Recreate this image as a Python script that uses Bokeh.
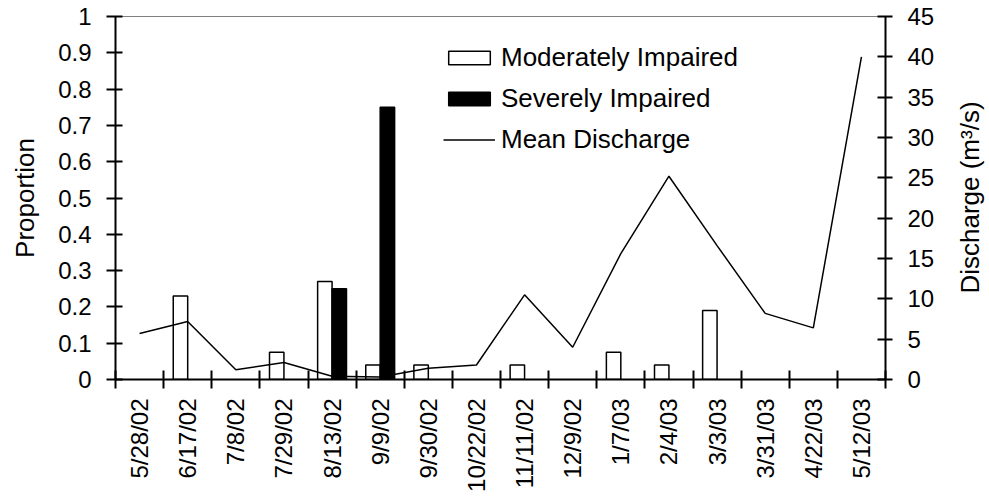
import math
from bokeh.plotting import figure
from bokeh.models import (Range1d, LinearAxis, FixedTicker, ColumnDataSource,
                          Legend, LegendItem, Label)
from bokeh.transform import dodge
from bokeh.embed import file_html
from bokeh.resources import INLINE

# ---- data ----
dates = ["5/28/02", "6/17/02", "7/8/02", "7/29/02", "8/13/02", "9/9/02",
         "9/30/02", "10/22/02", "11/11/02", "12/9/02", "1/7/03", "2/4/03",
         "3/3/03", "3/31/03", "4/22/03", "5/12/03"]
moderate = [0, 0.23, 0, 0.075, 0.27, 0.04, 0.04, 0, 0.04, 0, 0.075, 0.04,
            0.19, 0, 0, 0]
severe = [0, 0, 0, 0, 0.25, 0.75, 0, 0, 0, 0, 0, 0, 0, 0, 0, 0]
discharge = [5.7, 7.2, 1.2, 2.1, 0.4, 0.3, 1.4, 1.8, 10.5, 4.0, 15.6, 25.2,
             16.6, 8.2, 6.4, 40.0]
prop_ticks = [0, 0.1, 0.2, 0.3, 0.4, 0.5, 0.6, 0.7, 0.8, 0.9, 1]
prop_tick_labels = ["0", "0.1", "0.2", "0.3", "0.4", "0.5", "0.6", "0.7",
                    "0.8", "0.9", "1"]
discharge_ticks = [0, 5, 10, 15, 20, 25, 30, 35, 40, 45]

FONT = "Liberation Sans"
TICK_FS = "24px"
TITLE_FS = "26px"

idx = list(range(len(dates)))
mod_src = ColumnDataSource(dict(x=[i for i, v in zip(idx, moderate) if v > 0],
                                top=[v for v in moderate if v > 0]))
sev_src = ColumnDataSource(dict(x=[i for i, v in zip(idx, severe) if v > 0],
                                top=[v for v in severe if v > 0]))
q_src = ColumnDataSource(dict(x=idx, q=discharge))

p = figure(width=985, height=500, output_backend="svg", toolbar_location=None,
           x_range=Range1d(-0.5, len(dates) - 0.5), y_range=Range1d(0, 1),
           min_border_top=16, min_border_left=115, min_border_right=100,
           min_border_bottom=121)
p.extra_y_ranges = {"q": Range1d(0, 45)}

p.grid.visible = False
p.outline_line_color = "#808080"
p.outline_line_width = 1
p.background_fill_color = "white"
p.border_fill_color = "white"

r_mod = p.vbar(x=dodge("x", -0.15), top="top", bottom=0, width=0.3,
               source=mod_src, fill_color="white", line_color="black",
               line_width=1.5)
r_sev = p.vbar(x=dodge("x", 0.15), top="top", bottom=0, width=0.3,
               source=sev_src, fill_color="black", line_color="black",
               line_width=1.5)
r_q = p.line(x="x", y="q", source=q_src, y_range_name="q",
             line_color="black", line_width=1.5)

# x axis: labels at category centres, tick marks at category boundaries
xa = p.xaxis[0]
xa.ticker = FixedTicker(ticks=idx, minor_ticks=[i - 0.5 for i in range(len(dates) + 1)])
xa.major_label_overrides = {i: d for i, d in zip(idx, dates)}
xa.major_label_orientation = math.pi / 2
xa.major_tick_line_color = None
xa.major_tick_in = 0
xa.major_tick_out = 9
xa.minor_tick_in = 9
xa.minor_tick_out = 9
xa.minor_tick_line_color = "black"
xa.minor_tick_line_width = 2
xa.major_label_standoff = 10

ya = p.yaxis[0]
ya.ticker = FixedTicker(ticks=prop_ticks)
ya.major_label_overrides = {t: l for t, l in zip(prop_ticks, prop_tick_labels)}
ya.axis_label = "Proportion"
ya.major_tick_in = 7
ya.major_tick_out = 9
ya.minor_tick_line_color = None
ya.major_label_standoff = 15
ya.axis_label_standoff = 15

ra = LinearAxis(y_range_name="q", ticker=FixedTicker(ticks=discharge_ticks))
ra.major_tick_in = 8
ra.major_tick_out = 7
ra.minor_tick_line_color = None
ra.major_label_standoff = 15
p.add_layout(ra, "right")

for ax in [xa, ya, ra]:
    ax.axis_line_color = "black"
    ax.axis_line_width = 2
    if ax is not xa:
        ax.major_tick_line_color = "black"
        ax.major_tick_line_width = 2
    ax.major_label_text_font = FONT
    ax.major_label_text_font_size = TICK_FS
    ax.major_label_text_color = "black"
    ax.axis_label_text_font = FONT
    ax.axis_label_text_font_size = TITLE_FS
    ax.axis_label_text_font_style = "normal"
    ax.axis_label_text_color = "black"

# right-axis title, reading bottom-to-top like the reference (in the right
# side panel, so that it is not clipped to the frame)
p.add_layout(Label(x=32, y=182, x_units="screen", y_units="screen",
                   text="Discharge (m³/s)", angle=math.pi / 2,
                   text_align="center", text_baseline="alphabetic",
                   text_font=FONT, text_font_size=TITLE_FS,
                   text_color="black"), "right")

legend = Legend(items=[LegendItem(label="Moderately Impaired", renderers=[r_mod]),
                       LegendItem(label="Severely Impaired", renderers=[r_sev]),
                       LegendItem(label="Mean Discharge", renderers=[r_q])],
                location=(328, 224), orientation="vertical",
                glyph_width=52, glyph_height=17, label_height=29,
                spacing=10, padding=0, margin=0, label_standoff=6,
                border_line_color=None, background_fill_alpha=0,
                label_text_font=FONT, label_text_font_size=TITLE_FS,
                label_text_color="black")
p.add_layout(legend, "center")

open("out.html", "w").write(file_html(p, INLINE))
